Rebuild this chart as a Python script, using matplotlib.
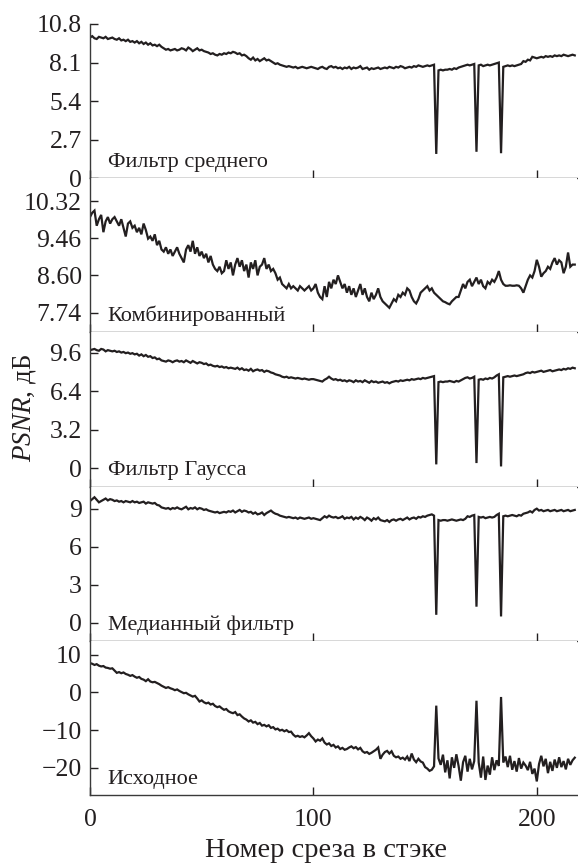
"""PSNR along the slice stack: raw image vs four denoising filters.

Five stacked panels sharing the slice axis. Values read off the figure.

Run:  python plot.py
Makes: out.png
"""

import matplotlib
matplotlib.use("Agg")
import matplotlib.pyplot as plt  # noqa: E402
import numpy as np  # noqa: E402

INK = "#231f20"

# ---- data (one value per slice, slice 0..217) --------------------------------

mean_filter = [
    9.85, 9.95, 9.8, 9.75, 9.9, 9.85, 9.8, 9.9, 9.75, 9.8,
    9.85, 9.75, 9.7, 9.8, 9.65, 9.7, 9.6, 9.7, 9.55, 9.6,
    9.5, 9.6, 9.45, 9.55, 9.4, 9.5, 9.35, 9.45, 9.3, 9.35,
    9.25, 9.35, 9.2, 9.1, 9.0, 9.05, 8.95, 9.0, 9.05, 8.95,
    9.0, 9.1, 9.05, 8.95, 9.15, 9.05, 8.9, 9.0, 9.1, 8.95,
    9.0, 8.9, 8.85, 8.8, 8.7, 8.75, 8.65, 8.6, 8.7, 8.65,
    8.75, 8.7, 8.8, 8.75, 8.85, 8.8, 8.7, 8.75, 8.6, 8.65,
    8.55, 8.4, 8.3, 8.45, 8.25, 8.35, 8.2, 8.3, 8.4, 8.25,
    8.3, 8.2, 8.1, 8.0, 8.05, 7.95, 7.9, 7.85, 7.8, 7.85,
    7.8, 7.75, 7.8, 7.7, 7.75, 7.8, 7.75, 7.7, 7.75, 7.8,
    7.75, 7.7, 7.65, 7.75, 7.8, 7.7, 7.65, 7.8, 7.85, 7.75,
    7.8, 7.7, 7.75, 7.65, 7.75, 7.7, 7.8, 7.65, 7.75, 7.7,
    7.75, 7.85, 7.65, 7.7, 7.75, 7.6, 7.7, 7.65, 7.7, 7.75,
    7.65, 7.7, 7.75, 7.7, 7.8, 7.75, 7.7, 7.8, 7.75, 7.85,
    7.8, 7.7, 7.75, 7.8, 7.75, 7.85, 7.8, 7.9, 7.85, 7.8,
    7.85, 7.9, 7.85, 7.9, 7.95, 1.7, 7.55, 7.6, 7.55, 7.6,
    7.6, 7.65, 7.6, 7.7, 7.65, 7.75, 7.8, 7.85, 7.9, 7.95,
    7.9, 7.95, 8.0, 1.85, 7.9, 7.95, 7.85, 7.9, 7.95, 7.9,
    7.95, 8.0, 8.05, 8.1, 1.75, 7.8, 7.85, 7.9, 7.85, 7.9,
    7.85, 7.9, 7.95, 8.0, 8.2, 8.15, 8.3, 8.25, 8.5, 8.45,
    8.4, 8.45, 8.5, 8.45, 8.55, 8.5, 8.55, 8.5, 8.6, 8.55,
    8.6, 8.55, 8.65, 8.6, 8.55, 8.6, 8.65, 8.6,
]

combined = [
    9.95, 10.05, 10.1, 9.75, 9.9, 10.0, 9.6, 9.85, 9.95, 9.8,
    9.9, 9.95, 9.85, 9.75, 9.9, 9.7, 9.5, 9.8, 9.85, 9.7,
    9.75, 9.6, 9.7, 9.55, 9.8, 9.65, 9.45, 9.5, 9.4, 9.55,
    9.3, 9.4, 9.2, 9.15, 9.25, 9.1, 9.2, 9.05, 9.15, 9.25,
    9.1, 9.0, 8.9, 9.2, 9.3, 9.15, 9.4, 9.1, 9.25, 9.05,
    9.15, 9.0, 9.1, 8.9, 9.05, 8.85, 8.75, 8.7, 8.8, 8.65,
    8.7, 8.95, 8.75, 8.9, 8.6, 8.85, 9.0, 8.8, 8.95, 8.7,
    8.85, 8.55, 8.9, 8.75, 8.95, 8.6, 8.8, 8.85, 9.0, 8.75,
    8.85, 8.7, 8.75, 8.65, 8.5, 8.55, 8.4, 8.35, 8.3, 8.4,
    8.3, 8.35, 8.3, 8.25, 8.35, 8.3, 8.25, 8.3, 8.35, 8.25,
    8.3, 8.4, 8.2, 8.1, 8.05, 8.35, 8.1, 8.45, 8.3, 8.5,
    8.4, 8.6, 8.45, 8.3, 8.4, 8.2, 8.35, 8.15, 8.3, 8.1,
    8.25, 8.4, 8.15, 8.3, 8.1, 8.0, 8.2, 8.05, 8.15, 8.3,
    8.1, 8.0, 7.95, 7.9, 7.85, 7.95, 8.05, 8.0, 8.15, 8.1,
    8.2, 8.15, 8.3, 8.25, 8.1, 8.0, 7.95, 8.05, 8.2, 8.25,
    8.3, 8.35, 8.25, 8.3, 8.2, 8.15, 8.1, 8.05, 8.0, 7.98,
    7.95, 7.93, 8.0, 8.05, 8.1, 8.1, 8.25, 8.4, 8.3, 8.45,
    8.5, 8.35, 8.45, 8.55, 8.4, 8.5, 8.35, 8.3, 8.45, 8.4,
    8.5, 8.45, 8.55, 8.7, 8.5, 8.4, 8.36, 8.36, 8.37, 8.36,
    8.36, 8.37, 8.36, 8.3, 8.2, 8.35, 8.5, 8.6, 8.55, 8.7,
    8.96, 8.8, 8.57, 8.65, 8.7, 8.8, 8.75, 8.9, 9.0, 8.85,
    8.95, 8.9, 8.65, 8.8, 9.13, 8.8, 8.85, 8.85,
]

gauss = [
    9.8, 9.85, 9.9, 9.8, 9.75, 9.9, 9.85, 9.7, 9.8, 9.75,
    9.7, 9.75, 9.65, 9.7, 9.6, 9.65, 9.55, 9.6, 9.5, 9.55,
    9.45, 9.5, 9.35, 9.45, 9.3, 9.4, 9.25, 9.3, 9.15, 9.2,
    9.05, 9.1, 8.95, 8.9, 8.85, 8.95, 8.9, 8.8, 8.9, 8.95,
    8.85, 8.9, 8.8, 8.95, 8.85, 8.75, 8.9, 8.8, 8.7, 8.8,
    8.75, 8.65, 8.7, 8.55, 8.6, 8.5, 8.45, 8.5, 8.4, 8.45,
    8.35, 8.4, 8.3, 8.35, 8.3, 8.25, 8.35, 8.2, 8.3, 8.15,
    8.2, 8.1, 8.25, 8.05, 8.15, 8.2, 8.1, 8.15, 8.0, 8.1,
    8.05, 7.95, 7.9, 7.8, 7.75, 7.7, 7.6, 7.55, 7.6, 7.5,
    7.55, 7.5, 7.45, 7.5, 7.45, 7.4, 7.45, 7.4, 7.35, 7.4,
    7.4, 7.35, 7.3, 7.25, 7.2, 7.35, 7.45, 7.6, 7.45, 7.35,
    7.4, 7.3, 7.35, 7.25, 7.3, 7.2, 7.3, 7.25, 7.15, 7.3,
    7.2, 7.25, 7.15, 7.3, 7.2, 7.1, 7.25, 7.15, 7.2, 7.1,
    7.15, 7.2, 7.1, 7.15, 7.05, 7.15, 7.2, 7.25, 7.2, 7.3,
    7.25, 7.3, 7.35, 7.3, 7.4, 7.35, 7.4, 7.45, 7.4, 7.5,
    7.45, 7.5, 7.55, 7.6, 7.65, 0.34, 7.15, 7.2, 7.15, 7.2,
    7.2, 7.25, 7.2, 7.15, 7.25, 7.2, 7.3, 7.4, 7.5, 7.55,
    7.45, 7.5, 7.6, 0.45, 7.35, 7.4, 7.35, 7.45, 7.4, 7.5,
    7.45, 7.55, 7.7, 7.8, 0.17, 7.55, 7.6, 7.65, 7.6, 7.65,
    7.7, 7.65, 7.7, 7.75, 7.8, 7.9, 7.95, 7.9, 8.0, 7.95,
    8.0, 8.05, 8.1, 8.0, 8.05, 8.1, 8.15, 8.05, 8.1, 8.15,
    8.2, 8.15, 8.25, 8.2, 8.3, 8.25, 8.35, 8.3,
]

median = [
    9.6, 9.75, 9.9, 9.7, 9.5, 9.6, 9.7, 9.8, 9.65, 9.75,
    9.7, 9.6, 9.65, 9.55, 9.6, 9.5, 9.6, 9.55, 9.5, 9.6,
    9.5, 9.55, 9.45, 9.5, 9.55, 9.4, 9.5, 9.45, 9.4, 9.45,
    9.3, 9.25, 9.1, 9.05, 9.0, 9.05, 8.95, 9.05, 9.0, 9.1,
    9.0, 8.95, 9.05, 9.15, 8.95, 9.05, 9.0, 9.1, 8.95, 9.05,
    9.0, 8.9, 8.95, 8.85, 8.8, 8.75, 8.7, 8.75, 8.65, 8.7,
    8.75, 8.7, 8.8, 8.75, 8.85, 8.7, 8.8, 8.9, 8.75, 8.85,
    8.8, 8.7, 8.75, 8.6, 8.7, 8.55, 8.6, 8.7, 8.5, 8.65,
    8.75, 8.85, 8.7, 8.6, 8.55, 8.45, 8.4, 8.35, 8.3, 8.35,
    8.3, 8.25, 8.3, 8.2, 8.3, 8.25, 8.2, 8.25, 8.3, 8.2,
    8.25, 8.2, 8.15, 8.1, 8.25, 8.4, 8.3, 8.45, 8.35, 8.3,
    8.35, 8.25, 8.3, 8.4, 8.2, 8.3, 8.25, 8.35, 8.15, 8.3,
    8.2, 8.35, 8.25, 8.1, 8.3, 8.2, 8.05, 8.25, 8.15, 8.3,
    8.1, 8.05, 8.0, 8.1, 7.95, 8.1, 8.15, 8.05, 8.15, 8.2,
    8.1, 8.2, 8.3, 8.15, 8.25, 8.3, 8.2, 8.35, 8.3, 8.4,
    8.35, 8.45, 8.5, 8.55, 8.45, 0.63, 8.1, 8.05, 8.1, 8.1,
    8.05, 8.1, 8.15, 8.1, 8.05, 8.1, 8.15, 8.1, 8.2, 8.4,
    8.35, 8.45, 8.5, 1.27, 8.35, 8.3, 8.35, 8.25, 8.3, 8.35,
    8.3, 8.35, 8.5, 8.6, 0.5, 8.4, 8.45, 8.4, 8.45, 8.5,
    8.45, 8.4, 8.5, 8.45, 8.6, 8.65, 8.7, 8.8, 8.7, 8.9,
    9.0, 8.85, 8.9, 8.8, 8.85, 8.9, 8.8, 8.85, 8.9, 8.8,
    8.85, 8.9, 8.8, 8.85, 8.9, 8.8, 8.85, 8.9,
]

original = [
    7.8, 7.6, 7.3, 7.5, 7.1, 6.9, 7.0, 6.6, 6.5, 6.3,
    6.4, 5.8, 5.2, 5.4, 5.1, 5.3, 4.9, 4.7, 4.4, 4.6,
    4.2, 3.9, 4.1, 3.6, 3.4, 3.0, 3.5, 2.9, 2.7, 2.8,
    2.5, 2.2, 1.8, 1.5, 1.2, 1.4, 1.1, 0.9, 0.6, 0.8,
    0.4, 0.1, -0.2, -0.1, -0.5, -0.8, -1.1, -0.9, -1.6, -2.4,
    -2.1, -2.6, -2.9, -2.7, -3.2, -3.0, -3.6, -3.9, -3.7, -4.2,
    -4.6, -4.4, -5.0, -5.3, -5.5, -5.2, -6.0, -5.8, -6.4, -6.9,
    -7.2, -7.7, -7.4, -8.0, -7.8, -8.4, -8.1, -8.8, -8.6, -9.0,
    -8.7, -9.4, -9.2, -9.8, -9.6, -10.1, -9.9, -10.3, -10.0, -10.5,
    -10.4, -11.2, -11.7, -11.5, -11.8, -11.6, -11.9, -11.4, -10.8, -11.6,
    -12.2, -13.0, -12.5, -12.8, -12.2, -13.3, -13.8, -13.5, -14.2, -13.9,
    -14.6, -14.3, -15.0, -14.7, -15.2, -15.0, -14.6, -14.3, -14.8, -14.5,
    -15.1, -14.7, -15.6, -16.0, -15.8, -16.3, -16.0, -15.6, -15.2, -14.6,
    -17.6, -16.5, -15.8, -15.5, -16.2, -15.6, -16.8, -17.2, -17.0, -17.6,
    -17.3, -17.8, -17.0, -18.2, -16.2, -17.8, -18.5, -17.6, -18.3, -18.6,
    -19.8, -20.2, -20.8, -20.5, -19.6, -3.5, -17.5, -19.2, -16.5, -21.2,
    -18.0, -22.8, -17.2, -20.0, -16.4, -19.5, -23.4, -18.5, -16.8, -21.0,
    -17.6, -20.4, -18.2, -2.2, -18.6, -22.6, -17.0, -23.2, -19.4, -21.8,
    -17.2, -20.6, -18.0, -19.5, -1.2, -18.6, -17.0, -19.8, -16.8, -20.5,
    -18.2, -21.0, -17.4, -20.2, -18.6, -19.4, -20.6, -18.4, -21.6, -20.2,
    -23.6, -19.0, -16.8, -19.6, -17.6, -21.4, -18.4, -20.8, -17.8, -20.0,
    -17.2, -19.8, -18.2, -20.4, -17.6, -19.2, -18.0, -17.3,
]

panel_names = ["Фильтр среднего", "Комбинированный", "Фильтр Гаусса",
               "Медианный фильтр", "Исходное"]
panel_series = [mean_filter, combined, gauss, median, original]
panel_yticks = [
    [0, 2.7, 5.4, 8.1, 10.8],
    [7.74, 8.60, 9.46, 10.32],
    [0, 3.2, 6.4, 9.6],
    [0, 3, 6, 9],
    [-20, -10, 0, 10],
]
panel_yticklabels = [
    ["0", "2.7", "5.4", "8.1", "10.8"],
    ["7.74", "8.60", "9.46", "10.32"],
    ["0", "3.2", "6.4", "9.6"],
    ["0", "3", "6", "9"],
    ["\u221220", "\u221210", "0", "10"],
]
panel_ylims = [(0, 10.8), (7.28, 10.85), (-1.5, 11.27), (-1.42, 10.74), (-27.2, 13.7)]
x_ticks = [0, 100, 200]


def main():
    plt.rcParams["font.family"] = ["Liberation Serif", "DejaVu Serif"]
    plt.rcParams["mathtext.fontset"] = "custom"
    plt.rcParams["mathtext.rm"] = "Liberation Serif"
    plt.rcParams["mathtext.it"] = "Liberation Serif:italic"

    fig, axes = plt.subplots(5, 1, figsize=(5.78, 8.63), dpi=100, sharex=True)
    fig.subplots_adjust(left=90 / 578, right=577 / 578, top=1 - 24 / 863,
                        bottom=1 - 795 / 863, hspace=0)

    for ax, name, ys, ticks, labels, lim in zip(axes, panel_names, panel_series,
                                                panel_yticks, panel_yticklabels, panel_ylims):
        x = np.arange(len(ys))
        ax.plot(x, ys, color=INK, lw=1.6, solid_joinstyle="miter")
        ax.set_xlim(0, 218)
        ax.set_ylim(*lim)
        ax.set_yticks(ticks)
        ax.set_yticklabels(labels)
        ax.set_xticks(x_ticks)
        for side in ("top", "right"):
            ax.spines[side].set_visible(False)
        for side in ("left", "bottom"):
            ax.spines[side].set_color("#3a3a3a")
            ax.spines[side].set_linewidth(1.0)
        ax.tick_params(direction="in", length=6, width=1.0, color=INK,
                       labelsize=18.5, labelcolor=INK, pad=6)
        ax.tick_params(axis="x", pad=10)
        ax.text(0.036, 0.04, name, transform=ax.transAxes, fontsize=16,
                color=INK, ha="left", va="bottom")

    # axis titles placed by hand: the reference centres them a bit left
    fig.text(326 / 578, 1 - 850 / 863, "Номер среза в стэке", fontsize=20.5,
             color=INK, ha="center", va="center")
    fig.text(25 / 578, 1 - 408 / 863, r"$\mathit{PSNR}$, дБ", rotation=90,
             fontsize=19.5, color=INK, ha="center", va="center")

    fig.savefig("out.png", dpi=100)


if __name__ == "__main__":
    main()
